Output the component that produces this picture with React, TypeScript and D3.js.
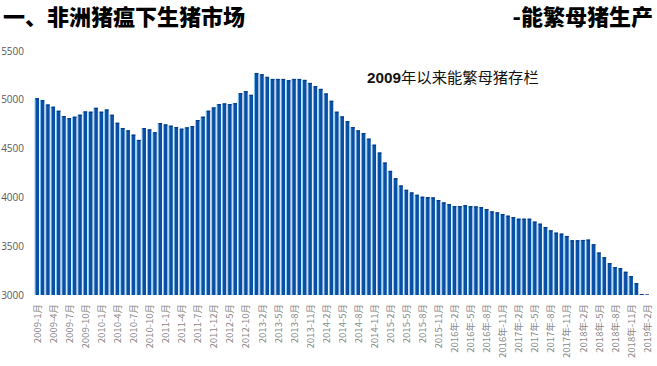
import React from 'react';
import * as d3 from 'd3';

// 能繁母猪存栏 (万头), monthly bars
const sowStock = [
  5017, 4997, 4952, 4929, 4888, 4834, 4813, 4827, 4847, 4881, 4878, 4918, 4878, 4901, 4847,
  4765, 4711, 4687, 4643, 4589, 4711, 4697, 4667, 4762, 4748, 4735, 4721, 4704, 4718, 4731,
  4793, 4827, 4888, 4922, 4956, 4963, 4956, 4966, 5068, 5089, 5051, 5275, 5262, 5235, 5214,
  5214, 5214, 5201, 5214, 5214, 5204, 5173, 5140, 5112, 5065, 4990, 4878, 4830, 4782, 4721,
  4687, 4660, 4602, 4540, 4460, 4357, 4272, 4197, 4122, 4078, 4051, 4027, 4007, 4003, 4000,
  3973, 3949, 3932, 3911, 3911, 3921, 3911, 3908, 3901, 3881, 3857, 3847, 3830, 3813, 3799,
  3782, 3782, 3782, 3752, 3731, 3697, 3663, 3639, 3629, 3605, 3561, 3561, 3564, 3568, 3520,
  3435, 3388, 3327, 3286, 3276, 3238, 3194, 3122, 3010, 3005
];

// one label for every third bar
const tickLabels = [
  '2009-1月', '2009-4月', '2009-7月', '2009-10月',
  '2010-1月', '2010-4月', '2010-7月', '2010-10月',
  '2011-1月', '2011-4月', '2011-7月', '2011-12月',
  '2012-5月', '2012-10月',
  '2013-2月', '2013-5月', '2013-8月', '2013-11月',
  '2014-2月', '2014-5月', '2014-8月', '2014-11月',
  '2015-2月', '2015-5月', '2015-8月', '2015-11月',
  '2016年-2月', '2016年-5月', '2016年-8月', '2016年-11月',
  '2017年-2月', '2017年-5月', '2017年-8月', '2017年-11月',
  '2018年-2月', '2018年-5月', '2018年-8月', '2018年-11月',
  '2019年-2月'
];

const yTicks = [3000, 3500, 4000, 4500, 5000, 5500];

const W = 657, H = 366;

export default function App() {
  const idx = sowStock.map((_, i) => i);

  const x = d3.scaleBand<number>()
    .domain(idx)
    .range([34.3, 649.6])
    .paddingInner(0);

  const y = d3.scaleLinear()
    .domain([3000, 5500])
    .range([295, 51]);

  const step = x.step();
  const cjk = '"Noto Sans CJK SC", "Noto Sans", sans-serif';

  return (
    <svg width={W} height={H} style={{ position: 'absolute', left: 0, top: 0, background: '#fff' }}>
      <text x={3} y={25} fontFamily={cjk} fontWeight={900} fontSize={22} fill="#000">
        一、非洲猪瘟下生猪市场
      </text>
      <text x={653} y={25} textAnchor="end" fontFamily={cjk} fontWeight={900} fontSize={22} fill="#000">
        -能繁母猪生产
      </text>

      <text x={367} y={83} fontFamily={cjk} fontSize={15.3} fill="#111">
        <tspan fontWeight={700} fontFamily='"Liberation Sans", sans-serif'>2009</tspan>
        <tspan>年以来能繁母猪存栏</tspan>
      </text>

      {yTicks.map(t => (
        <text key={t} x={24} y={y(t)} dy="0.35em" textAnchor="end"
          fontFamily='"Open Sans", sans-serif' fontSize={10} fill="#595959">
          {t}
        </text>
      ))}

      {sowStock.map((v, i) => {
        const x0 = x(i)!;
        const top = y(v);
        const h = y(3000) - top;
        return (
          <g key={i}>
            <rect x={x0 + 0.2} y={top} width={1.1} height={h} fill="#8fcdf1" />
            <rect x={x0 + 1.2} y={top} width={3.5} height={h} fill="#0a4fa6" />
            <rect x={x0 + 1.2} y={top} width={3.5} height={Math.min(1.2, h)} fill="#083c85" />
          </g>
        );
      })}

      {tickLabels.map((lab, k) => {
        const i = k * 3;
        const cx = x(i)! + step / 2 + 0.5;
        return (
          <text key={lab} transform={`translate(${cx},304) rotate(-90)`} dy="0.35em"
            textAnchor="end" fontFamily={cjk} fontSize={9.5} fill="#8a8a8a">
            {lab}
          </text>
        );
      })}
    </svg>
  );
}
